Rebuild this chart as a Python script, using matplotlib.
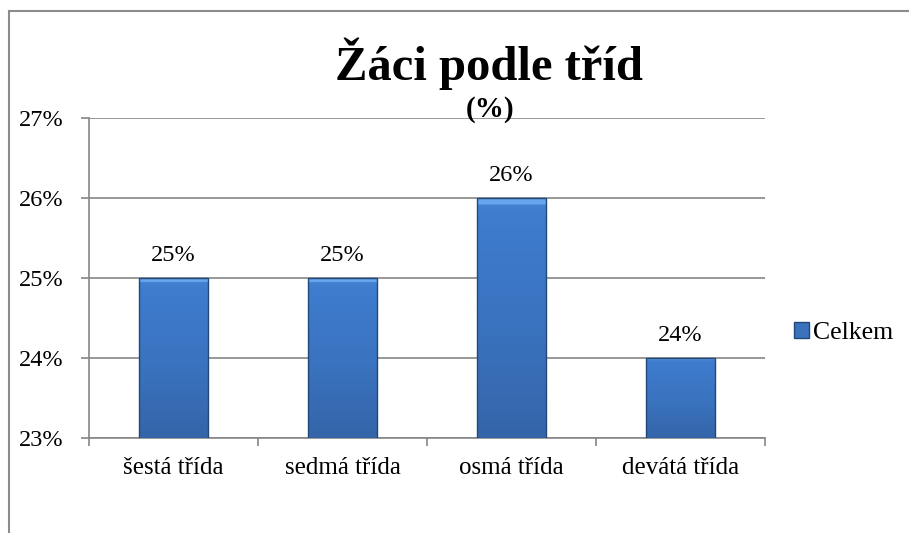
import numpy as np
import matplotlib.pyplot as plt
from matplotlib.lines import Line2D
from matplotlib.patches import Patch
from matplotlib.colors import LinearSegmentedColormap
from matplotlib.ticker import FuncFormatter

# data
categories = ['šestá třída', 'sedmá třída', 'osmá třída', 'devátá třída']
values = [25, 25, 26, 24]
series_name = 'Celkem'

plt.rcParams['font.family'] = ['Liberation Serif', 'DejaVu Serif']

fig = plt.figure(figsize=(9.09, 5.33), dpi=100)
ax = fig.add_axes([0.0979, 0.1782, 0.7437, 0.6004])

x = range(len(categories))
bars = ax.bar(x, values, width=0.41, color='none', edgecolor='#22487a',
              linewidth=1.0, zorder=4)
ax.bar_label(bars, labels=[f'{v}%' for v in values], padding=9, fontsize=17.5)

ax.set_ylim(23, 27)
ax.set_xlim(-0.5, len(categories) - 0.5)

# gradient fill inside each bar (light bevel on top, slightly darker bottom)
cmap = LinearSegmentedColormap.from_list('bar', ['#3465a9', '#3a73bf', '#3f7cce', '#66a6ee'])
grad = np.linspace(0, 1, 256).reshape(-1, 1)
grad = np.where(grad > 0.97, 1.0, grad * 0.72)
for b in bars:
    x0, w, h = b.get_x(), b.get_width(), b.get_height()
    im = ax.imshow(grad, cmap=cmap, vmin=0, vmax=1, origin='lower', aspect='auto',
                   extent=[x0, x0 + w, 23, h], zorder=3.5)
    im.set_clip_path(b)

ax.set_yticks([23, 24, 25, 26, 27])
ax.yaxis.set_major_formatter(FuncFormatter(lambda v, p: f'{v:.0f}%'))
ax.grid(axis='y', color='#868686', linewidth=1.2, zorder=0)

ax.set_xticks(list(x))
ax.set_xticklabels(categories)
ax.set_xticks([i - 0.5 for i in range(len(categories) + 1)], minor=True)
ax.tick_params(axis='x', which='major', length=0, pad=14, labelsize=18)
ax.tick_params(axis='x', which='minor', length=6, width=1.2, color='#868686', direction='out')
ax.tick_params(axis='y', length=6, width=1.2, color='#868686', pad=12, labelsize=17.5)

for s in ['top', 'right']:
    ax.spines[s].set_visible(False)
for s in ['left', 'bottom']:
    ax.spines[s].set_color('#868686')
    ax.spines[s].set_linewidth(1.2)

# title
fig.text(0.538, 0.850, 'Žáci podle tříd', ha='center', va='baseline',
         fontsize=35, fontweight='bold')
fig.text(0.539, 0.794, '(%)', ha='center', va='center',
         fontsize=21, fontweight='bold')

# legend
handle = Patch(facecolor='#3a72bd', edgecolor='#22487a', label=series_name)
ax.legend(handles=[handle], loc='center left', bbox_to_anchor=(0.873, 0.375),
          bbox_transform=fig.transFigure, frameon=False, fontsize=18.5,
          handlelength=0.6, handleheight=0.6, handletextpad=0.15,
          borderpad=0, borderaxespad=0)

# chart frame (partly visible)
fig.add_artist(Line2D([0.0099, 1.0], [0.979, 0.979], color='#8c8c8c', linewidth=1.5))
fig.add_artist(Line2D([0.0099, 0.0099], [0.0, 0.979], color='#8c8c8c', linewidth=1.5))

fig.savefig('out.png', dpi=100)
